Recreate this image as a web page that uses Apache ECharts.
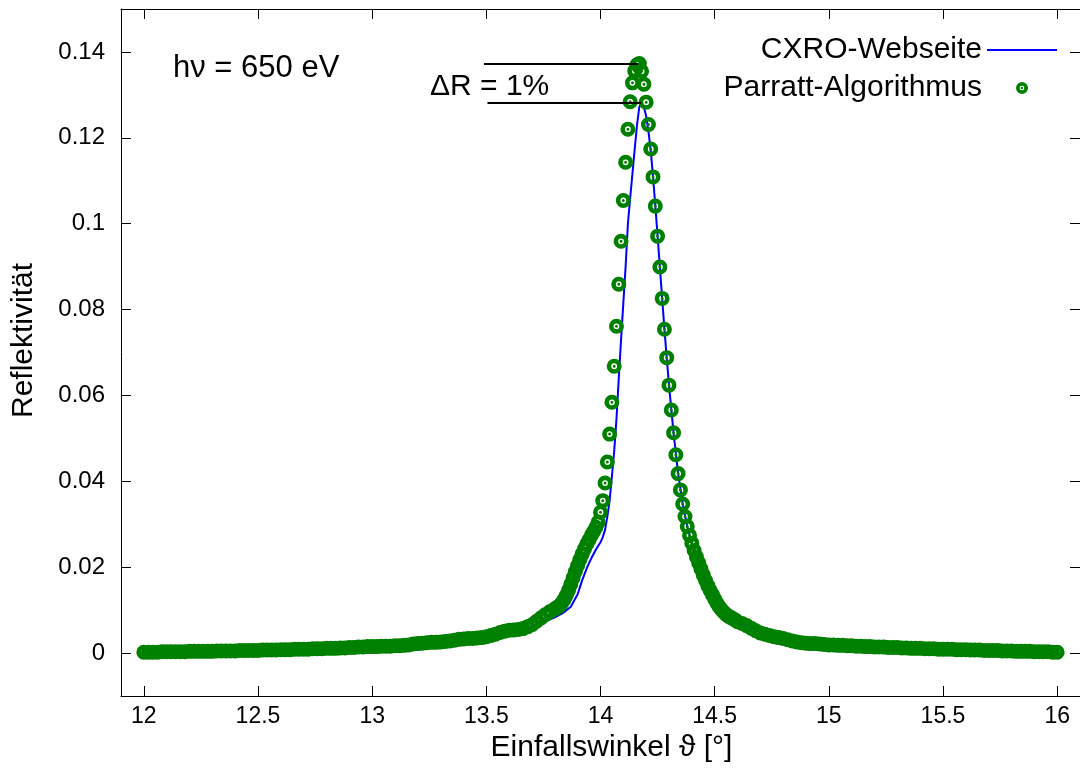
<!DOCTYPE html>
<html>
<head>
<meta charset="utf-8">
<script src="https://cdn.jsdelivr.net/npm/echarts@6/dist/echarts.min.js"></script>
<style>html,body{margin:0;padding:0;background:#fff}#chart{width:1080px;height:769px}</style>
</head>
<body>
<div id="chart"></div>
<script>
// ---- Data ----
const xTicks = [12, 12.5, 13, 13.5, 14, 14.5, 15, 15.5, 16];
const yTicks = [0, 0.02, 0.04, 0.06, 0.08, 0.1, 0.12, 0.14];

// Parratt-Algorithmus: three sampling segments
const parrattLowStart = 12.00, parrattLowStep = 0.02;
const parrattLow = [
  .0002,.0002,.0002,.0002,.0003,.0003,.0003,.0003,.0003,.0003,
  .0004,.0004,.0004,.0004,.0004,.0004,.0005,.0005,.0005,.0005,
  .0005,.0006,.0006,.0006,.0006,.0006,.0007,.0007,.0007,.0007,
  .0008,.0008,.0008,.0009,.0009,.0009,.0009,.0010,.0010,.0010,
  .0011,.0011,.0011,.0012,.0012,.0013,.0013,.0014,.0014,.0015,
  .0015,.0015,.0016,.0016,.0016,.0017,.0017,.0018,.0019,.0021,
  .0022,.0023,.0024,.0025,.0025,.0026,.0027,.0028,.0030,.0032,
  .0033,.0034,.0034,.0035,.0036,.0038,.0041,.0044,.0048,.0051,
  .0053,.0054,.0055,.0057,.0061,.0066,.0074,.0082,.0090,.0097,
  .0103
];
const parrattPeakStart = 13.81, parrattPeakStep = 0.01;
const parrattPeak = [
  .0106,.0110,.0116,.0124,.0134,.0146,.0160,.0175,.0190,.0204,
  .0218,.0231,.0243,.0254,.0264,.0274,.0283,.0293,.0305,.0328,
  .0355,.0396,.0445,.0510,.0584,.0668,.0761,.0859,.0959,.1054,
  .1143,.1220,.1284,.1328,.1356,.1370,.1373,.1355,.1325,.1283,
  .1231,.1174,.1109,.1041,.0971,.0899,.0826,.0754,.0688,.0624,
  .0566,.0513,.0462,.0418,.0380,.0347,.0318,.0295,.0274,.0256,
  .0239,.0224,.0210,.0196,.0182,.0169,.0157,.0146,.0136,.0126,
  .0116,.0108,.0101,.0095,.0090,.0086,.0083,.0080,.0077,.0073
];
const parrattHighStart = 14.62, parrattHighStep = 0.02;
const parrattHigh = [
  .0069,.0064,.0058,.0052,.0047,.0044,.0041,.0038,.0036,.0034,
  .0031,.0028,.0026,.0024,.0023,.0022,.0022,.0021,.0020,.0019,
  .0019,.0018,.0018,.0017,.0017,.0016,.0016,.0015,.0015,.0014,
  .0014,.0014,.0013,.0013,.0013,.0012,.0012,.0011,.0011,.0011,
  .0010,.0010,.0010,.0009,.0009,.0009,.0009,.0008,.0008,.0008,
  .0007,.0007,.0007,.0006,.0006,.0006,.0006,.0005,.0005,.0005,
  .0004,.0004,.0004,.0004,.0003,.0003,.0003,.0003,.0002,.0002
];

// CXRO-Webseite
const cxroTheta = [12.00,12.25,12.50,12.75,13.00,13.10,13.20,13.30,13.40,13.50,
  13.55,13.60,13.65,13.70,13.75,13.80,13.84,13.87,13.90,13.92,
  13.94,13.96,13.98,14.00,14.01,14.02,14.03,14.04,14.05,14.06,14.07,14.08,14.09,14.10,
  14.11,14.12,14.13,14.14,14.15,14.16,14.17,14.18,14.19,14.20,
  14.21,14.22,14.23,14.24,14.25,14.26,14.27,14.28,14.29,14.30,
  14.32,14.34,14.36,14.38,14.40,14.43,14.46,14.50,14.55,14.60,
  14.65,14.70,14.80,14.90,15.00,15.25,15.50,15.75,16.00];
const cxroR = [.0002,.0004,.0006,.0009,.0014,.0016,.0021,.0025,.0032,.0037,
  .0044,.0051,.0055,.0061,.0072,.0083,.0095,.0108,.0137,.0170,
  .0198,.0221,.0241,.0258,.0270,.0287,.0318,.0355,.0412,.0470,.0545,.0640,.0730,.0815,
  .0900,.1000,.1060,.1117,.1175,.1230,.1272,.1283,.1272,.1250,
  .1215,.1170,.1110,.1042,.0972,.0899,.0826,.0754,.0688,.0624,
  .0513,.0418,.0347,.0295,.0256,.0210,.0169,.0126,.0090,.0073,
  .0062,.0047,.0034,.0023,.0019,.0014,.0010,.0006,.0002];

// Delta-R annotation lines [x1, x2, y]
const deltaTop = [13.49, 14.165, 0.1373];
const deltaBottom = [13.505, 14.178, 0.1282];

// ---- build ----
function seg(start, step, vals) {
  return vals.map((v, i) => [Math.round((start + i * step) * 100) / 100, v]);
}
const parrattData = seg(parrattLowStart, parrattLowStep, parrattLow)
  .concat(seg(parrattPeakStart, parrattPeakStep, parrattPeak))
  .concat(seg(parrattHighStart, parrattHighStep, parrattHigh));
const cxroData = cxroTheta.map((t, i) => [t, cxroR[i]]);

const FONT = 'Liberation Sans';
const ring = 'path://M0,-7A7,7,0,1,1,0,7A7,7,0,1,1,0,-7Z M0,-2.7A2.7,2.7,0,1,0,0,2.7A2.7,2.7,0,1,0,0,-2.7Z M0,-1.4A1.4,1.4,0,1,1,0,1.4A1.4,1.4,0,1,1,0,-1.4Z';
const lineIcon = 'path://M0,0H70V2H0Z';

const chart = echarts.init(document.getElementById('chart'), null, {renderer: 'canvas'});
const axisCommon = {
  type: 'value',
  splitLine: {show: false},
  axisLine: {show: true, onZero: false, lineStyle: {color: '#000', width: 1}},
};
chart.setOption({
  animation: false,
  backgroundColor: '#fff',
  grid: {left: 121, top: 9, right: -3, bottom: 73, containLabel: false},
  xAxis: [
    Object.assign({}, axisCommon, {
      min: 11.9, max: 16.1, position: 'bottom',
      axisTick: {show: true, inside: true, length: 10, customValues: xTicks, lineStyle: {color: '#000'}},
      axisLabel: {customValues: xTicks, fontSize: 23, fontFamily: FONT, color: '#000', margin: 9},
      name: 'Einfallswinkel ϑ [°]', nameLocation: 'middle', nameGap: 36,
      nameTextStyle: {fontSize: 30, fontFamily: FONT, color: '#000', padding: [0, 0, 0, 22]}
    }),
    Object.assign({}, axisCommon, {
      min: 11.9, max: 16.1, position: 'top',
      axisTick: {show: true, inside: true, length: 10, customValues: xTicks, lineStyle: {color: '#000'}},
      axisLabel: {show: false}
    })
  ],
  yAxis: [
    Object.assign({}, axisCommon, {
      min: -0.01, max: 0.15, position: 'left',
      axisTick: {show: true, inside: true, length: 10, customValues: yTicks, lineStyle: {color: '#000'}},
      axisLabel: {customValues: yTicks, fontSize: 24, fontFamily: FONT, color: '#000', margin: 16},
      name: 'Reflektivität', nameLocation: 'middle', nameGap: 82,
      nameTextStyle: {fontSize: 30, fontFamily: FONT, color: '#000', padding: [0, 0, 0, 24]}
    }),
    Object.assign({}, axisCommon, {
      min: -0.01, max: 0.15, position: 'right',
      axisTick: {show: true, inside: true, length: 10, customValues: yTicks, lineStyle: {color: '#000'}},
      axisLabel: {show: false}
    })
  ],
  legend: {
    orient: 'vertical', right: 18, top: 26, align: 'right',
    itemWidth: 70, itemHeight: 12, itemGap: 0, selectedMode: false,
    textStyle: {fontSize: 30, fontFamily: FONT, color: '#000', lineHeight: 38},
    data: [
      {name: 'CXRO-Webseite', icon: lineIcon, itemStyle: {color: '#0000ff'}},
      {name: 'Parratt-Algorithmus'}
    ]
  },
  series: [
    {
      name: 'CXRO-Webseite', type: 'line', data: cxroData,
      symbol: 'none', showSymbol: false, z: 2,
      lineStyle: {color: '#0000ff', width: 2}, itemStyle: {color: '#0000ff'}
    },
    {
      name: 'Parratt-Algorithmus', type: 'scatter', data: parrattData,
      symbol: ring, symbolSize: 15, z: 3,
      itemStyle: {color: '#008000', opacity: 1},
      markLine: {
        silent: true, symbol: 'none', z: 10,
        label: {show: false},
        lineStyle: {color: '#000', width: 2, type: 'solid'},
        data: [
          [{coord: [deltaTop[0], deltaTop[2]]}, {coord: [deltaTop[1], deltaTop[2]]}],
          [{coord: [deltaBottom[0], deltaBottom[2]]}, {coord: [deltaBottom[1], deltaBottom[2]]}]
        ]
      }
    }
  ],
  graphic: [
    {type: 'text', x: 173, y: 68, style: {text: 'hν = 650 eV', fontSize: 31, fontFamily: FONT, fill: '#000', verticalAlign: 'middle'}},
    {type: 'text', x: 430, y: 87, style: {text: 'ΔR = 1%', fontSize: 30, fontFamily: FONT, fill: '#000', verticalAlign: 'middle'}}
  ]
});
</script>
</body>
</html>
